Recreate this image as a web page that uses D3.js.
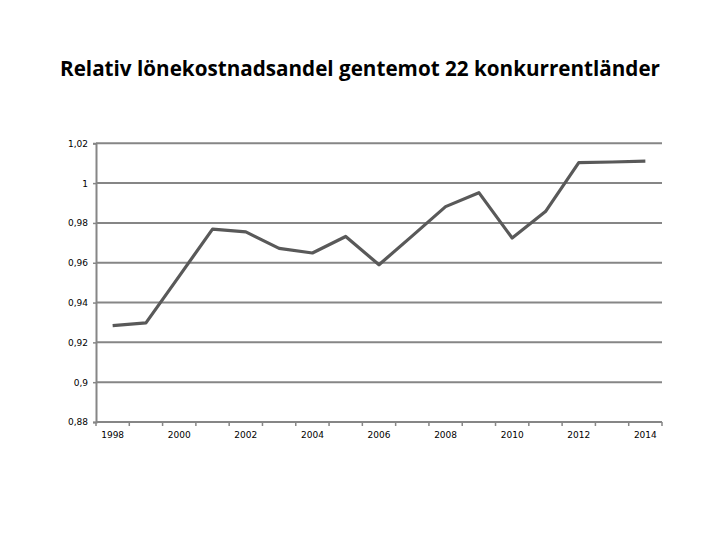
<!DOCTYPE html>
<html>
<head>
<meta charset="utf-8">
<script src="https://d3js.org/d3.v7.min.js"></script>
<style>
  body { margin: 0; background: #fff; }
</style>
</head>
<body>
<div id="chart"></div>
<script>
// values
var years = ["1998","1999","2000","2001","2002","2003","2004","2005","2006",
             "2007","2008","2009","2010","2011","2012","2013","2014"];
var shares = [0.9284, 0.9298, 0.9533, 0.9769, 0.9755, 0.9672, 0.9649, 0.9732, 0.9590,
              0.9735, 0.9882, 0.9952, 0.9724, 0.9857, 1.0103, 1.0106, 1.0110];
var yTicks = [0.88, 0.90, 0.92, 0.94, 0.96, 0.98, 1.00, 1.02];
var xLabels = ["1998","2000","2002","2004","2006","2008","2010","2012","2014"];

var W = 720, H = 540;
var plotLeft = 96, plotRight = 662, plotTop = 143.3, plotBottom = 422;

var svg = d3.select("#chart").append("svg")
  .attr("width", W).attr("height", H);

svg.append("text")
  .attr("x", 360).attr("y", 76)
  .attr("text-anchor", "middle")
  .attr("textLength", 600)
  .attr("lengthAdjust", "spacingAndGlyphs")
  .style("font-family", "'Open Sans', sans-serif")
  .style("font-weight", "bold")
  .style("font-size", "21px")
  .text("Relativ lönekostnadsandel gentemot 22 konkurrentländer");

var x = d3.scaleBand().domain(years).range([plotLeft, plotRight]);
var y = d3.scaleLinear().domain([0.88, 1.02]).range([plotBottom, plotTop]);

var fmt = function (d) { return String(+d.toFixed(2)).replace(".", ","); };
var grey = "#868686";

// gridlines
svg.append("g").selectAll("line")
  .data(yTicks.slice(1))
  .enter().append("line")
  .attr("x1", plotLeft).attr("x2", plotRight)
  .attr("y1", function (d) { return y(d); })
  .attr("y2", function (d) { return y(d); })
  .attr("stroke", grey).attr("stroke-width", 2);

// y axis
var yAxis = svg.append("g")
  .attr("transform", "translate(" + plotLeft + ",0)")
  .call(d3.axisLeft(y).tickValues(yTicks).tickFormat(fmt).tickSize(3).tickPadding(5));
yAxis.select(".domain").attr("stroke", grey).attr("stroke-width", 2);
yAxis.selectAll(".tick line").attr("stroke", grey).attr("stroke-width", 1.5);
yAxis.selectAll("text")
  .style("font-family", "'DejaVu Sans', sans-serif")
  .style("font-size", "9px").attr("fill", "#000");

// x axis: ticks on category boundaries, labels every second year
var xAxis = svg.append("g")
  .attr("transform", "translate(0," + plotBottom + ")");
xAxis.append("line")
  .attr("x1", plotLeft).attr("x2", plotRight)
  .attr("stroke", grey).attr("stroke-width", 2);
xAxis.selectAll(".tk")
  .data(years.concat(["end"]))
  .enter().append("line")
  .attr("x1", function (d, i) { return plotLeft + i * x.bandwidth(); })
  .attr("x2", function (d, i) { return plotLeft + i * x.bandwidth(); })
  .attr("y1", 0).attr("y2", 4)
  .attr("stroke", grey).attr("stroke-width", 1.5);
xAxis.selectAll(".lbl")
  .data(xLabels)
  .enter().append("text")
  .attr("x", function (d) { return x(d) + x.bandwidth() / 2; })
  .attr("y", 16)
  .attr("text-anchor", "middle")
  .style("font-family", "'DejaVu Sans', sans-serif")
  .style("font-size", "9px")
  .text(function (d) { return d; });

// the series
var line = d3.line()
  .x(function (d, i) { return x(years[i]) + x.bandwidth() / 2; })
  .y(function (d) { return y(d); });

svg.append("path")
  .datum(shares)
  .attr("d", line)
  .attr("fill", "none")
  .attr("stroke", "#595959")
  .attr("stroke-width", 3.2)
  .attr("stroke-linejoin", "round");
</script>
</body>
</html>
